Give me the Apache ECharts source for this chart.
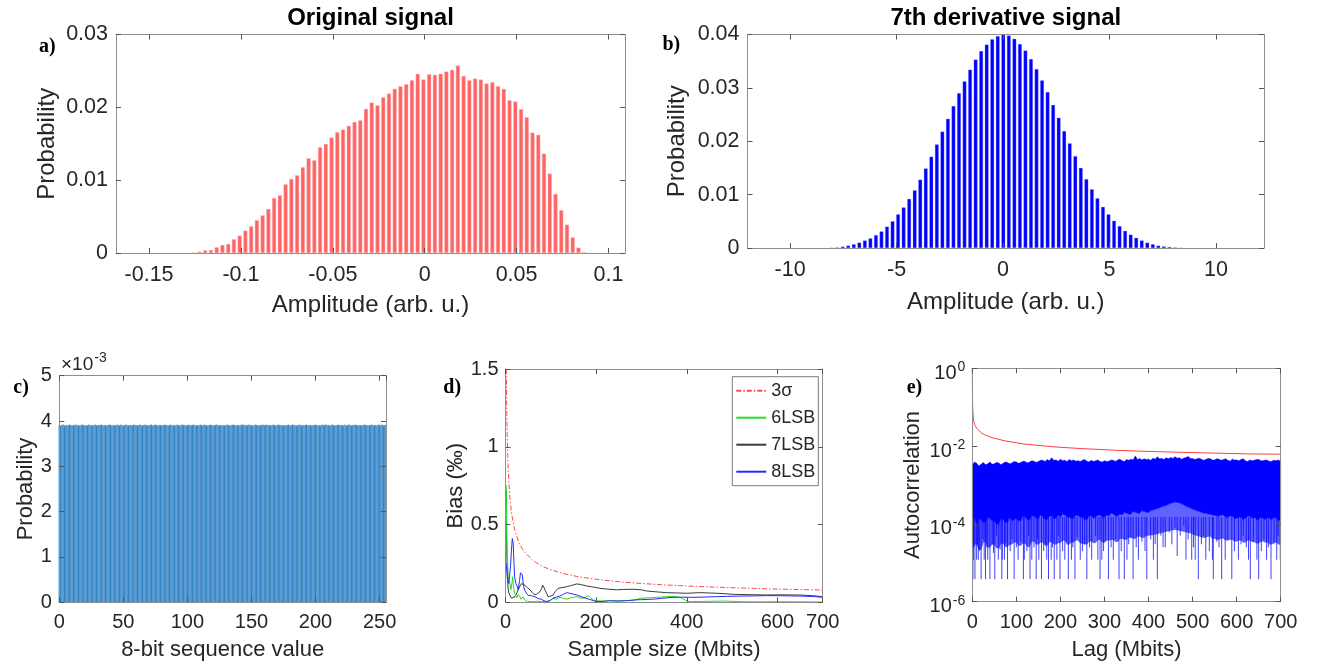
<!DOCTYPE html>
<html><head><meta charset="utf-8">
<script src="https://cdn.jsdelivr.net/npm/echarts@6/dist/echarts.min.js"></script>
<style>html,body{margin:0;padding:0;background:#fff}#c{width:1321px;height:667px}</style>
</head><body><div id="c"></div>
<script>
// ---------- DATA ----------
// a) Original signal histogram
const aBinStart = -0.1257, aBinWidth = 0.003125;
const aProb = [0.00005,0.00018,0.00037,0.00041,0.00078,0.0011,0.00124,0.00188,0.00238,0.00307,
  0.00366,0.00449,0.00517,0.00604,0.00755,0.00792,0.00943,0.01016,0.01067,0.01177,
  0.0130,0.01273,0.01451,0.01497,0.01584,0.01658,0.01694,0.01745,0.01799,0.01822,
  0.01978,0.02065,0.02028,0.02138,0.02189,0.02253,0.02289,0.02317,
  0.02372,0.02459,0.02381,0.02454,0.02445,0.02459,0.02491,0.02514,0.02573,0.02431,
  0.02372,0.02395,0.02381,0.02326,0.02344,0.02289,0.02253,0.02097,0.02079,0.01973,
  0.01864,0.01653,0.01621,0.01364,0.0109,0.0081,0.00586,0.00389,0.00215,0.00073,0.0001];
const aTicks = [-0.15,-0.1,-0.05,0,0.05,0.1];
// b) 7th derivative histogram
const bBinStart = -8.05, bBinWidth = 0.26;
const bProb = [0.00006,0.0001,0.00025,0.00044,0.0007,0.001,0.0014,0.0018,0.0024,0.0031,
  0.004,0.005,0.0063,0.0076,0.0092,0.0108,0.0128,0.0149,0.0171,0.0194,
  0.0218,0.0242,0.0266,0.029,0.0312,0.0334,0.0353,0.0369,0.0381,0.0391,0.0397,
  0.0400,
  0.0398,0.0392,0.0382,0.037,0.0354,0.0335,0.0314,0.0292,0.0268,0.0244,
  0.0219,0.0196,0.0172,0.015,0.0129,0.011,0.0093,0.0077,0.0063,0.0051,
  0.0041,0.0032,0.0025,0.0019,0.0014,0.001,0.0007,0.00044,0.0003,0.0002,0.0001,0.00005];
const bTicks = [-10,-5,0,5,10];
// c) 8-bit sequence value histogram (x 10^-3)
const cProb = [
 3.91,3.90,3.91,3.92,3.90,3.91,3.91,3.90,3.92,3.91,3.90,3.91,3.91,3.92,3.90,3.91,
 3.90,3.91,3.92,3.91,3.90,3.91,3.90,3.92,3.91,3.91,3.90,3.91,3.92,3.90,3.91,3.91,
 3.91,3.92,3.90,3.91,3.91,3.90,3.91,3.92,3.91,3.90,3.91,3.91,3.90,3.92,3.91,3.90,
 3.92,3.91,3.90,3.91,3.92,3.91,3.90,3.91,3.91,3.90,3.92,3.91,3.91,3.90,3.91,3.92,
 3.90,3.91,3.91,3.92,3.91,3.90,3.91,3.91,3.92,3.90,3.91,3.92,3.91,3.90,3.91,3.91,
 3.91,3.90,3.92,3.91,3.91,3.90,3.91,3.92,3.90,3.91,3.91,3.90,3.92,3.91,3.90,3.91,
 3.92,3.91,3.91,3.90,3.91,3.92,3.90,3.91,3.91,3.92,3.90,3.91,3.91,3.90,3.92,3.91,
 3.90,3.92,3.91,3.91,3.90,3.91,3.92,3.91,3.90,3.91,3.91,3.92,3.90,3.91,3.91,3.90,
 3.91,3.91,3.90,3.92,3.91,3.90,3.91,3.91,3.92,3.91,3.90,3.91,3.91,3.90,3.92,3.91,
 3.92,3.90,3.91,3.91,3.92,3.91,3.90,3.91,3.90,3.92,3.91,3.91,3.90,3.91,3.91,3.92,
 3.91,3.91,3.92,3.90,3.91,3.91,3.90,3.92,3.91,3.90,3.91,3.92,3.91,3.91,3.90,3.91,
 3.90,3.91,3.91,3.92,3.90,3.91,3.92,3.91,3.91,3.90,3.91,3.91,3.92,3.90,3.91,3.91,
 3.91,3.92,3.90,3.91,3.91,3.90,3.91,3.91,3.92,3.91,3.90,3.91,3.90,3.92,3.91,3.91,
 3.92,3.91,3.91,3.90,3.91,3.92,3.91,3.90,3.91,3.91,3.92,3.90,3.91,3.91,3.90,3.92,
 3.90,3.91,3.92,3.91,3.90,3.91,3.91,3.92,3.91,3.90,3.91,3.91,3.90,3.91,3.92,3.91,
 3.91,3.90,3.91,3.91,3.92,3.90,3.91,3.91,3.90,3.92,3.91,3.91,3.92,3.90,3.91,3.91];
// d) Bias vs sample size (Mbits, permille)
const d3Sigma = [[1.8,1.5],[2,1.45],[2.5,1.3],[3,1.2],[4,1.05],[5,0.93],[7,0.79],[10,0.66],[14,0.56],[20,0.47],[30,0.38],[40,0.33],[60,0.27],[80,0.233],[100,0.209],[130,0.183],[160,0.165],[200,0.148],[250,0.132],[300,0.121],[350,0.112],[400,0.105],[450,0.099],[500,0.094],[550,0.089],[600,0.085],[650,0.082],[700,0.079]];
const d6LSB = [[0.5,0.2],[1,0.75],[2,0.6],[3,0.4],[4,0.3],[6,0.16],[8,0.14],[10,0.12],[12,0.08],[14,0.12],[16,0.165],[18,0.09],[20,0.06],[22,0.047],[25,0.03],[28,0.05],[30,0.058],[32,0.035],[34,0.02],[37,0.03],[39,0.036],[41,0.02],[43,0.01],[48,0.004],[55,0.006],[62,0.003],[70,0.007],[80,0.004],[90,0.006],[98,0.01],[105,0.026],[112,0.02],[120,0.032],[128,0.025],[135,0.02],[145,0.03],[157,0.036],[165,0.028],[171,0.026],[178,0.035],[183,0.043],[188,0.03],[194,0.015],[200,0.01],[215,0.008],[230,0.011],[250,0.009],[265,0.012],[282,0.01],[297,0.026],[310,0.028],[320,0.03],[333,0.032],[345,0.034],[355,0.036],[365,0.038],[378,0.036],[388,0.028],[396,0.015],[402,0.006],[410,0.004],[430,0.005],[460,0.007],[480,0.008],[500,0.006],[520,0.004],[560,0.003],[600,0.004],[650,0.003],[700,0.002]];
const d7LSB = [[0.5,0.3],[1,0.72],[1.5,0.65],[2,0.5],[3,0.3],[4,0.2],[5,0.12],[6,0.08],[8,0.055],[10,0.047],[13,0.026],[16,0.03],[21,0.036],[25,0.06],[28,0.08],[32,0.105],[35,0.12],[39,0.115],[43,0.11],[48,0.095],[54,0.08],[60,0.06],[65,0.047],[70,0.055],[76,0.069],[80,0.09],[82,0.11],[85,0.095],[87,0.08],[91,0.055],[94,0.036],[100,0.04],[105,0.047],[110,0.07],[116,0.09],[125,0.095],[135,0.1],[145,0.108],[157,0.118],[165,0.115],[179,0.105],[190,0.1],[208,0.09],[225,0.085],[245,0.08],[260,0.083],[282,0.084],[300,0.08],[311,0.073],[330,0.068],[355,0.062],[380,0.06],[400,0.058],[429,0.062],[450,0.06],[466,0.058],[485,0.055],[503,0.051],[540,0.049],[576,0.047],[610,0.048],[650,0.047],[680,0.042],[700,0.036]];
const d8LSB = [[0.5,0.15],[1,0.25],[2,0.23],[3.7,0.19],[5,0.15],[7,0.12],[9,0.17],[11,0.23],[13,0.33],[15,0.41],[17,0.38],[18,0.3],[20,0.165],[23,0.12],[26,0.1],[28,0.08],[31,0.14],[33,0.19],[35,0.195],[37,0.176],[40,0.1],[43,0.075],[46,0.058],[50,0.045],[54,0.036],[58,0.042],[61,0.047],[65,0.035],[68,0.026],[74,0.022],[79,0.02],[85,0.01],[90,0.004],[98,0.01],[105,0.026],[112,0.033],[120,0.04],[128,0.052],[135,0.062],[142,0.058],[150,0.052],[157,0.047],[164,0.04],[171,0.032],[178,0.025],[186,0.019],[194,0.01],[201,0.004],[215,0.006],[230,0.01],[250,0.008],[267,0.01],[282,0.015],[300,0.017],[326,0.02],[345,0.026],[370,0.032],[390,0.033],[415,0.032],[440,0.034],[466,0.036],[490,0.038],[517,0.04],[545,0.041],[576,0.043],[610,0.042],[650,0.04],[680,0.037],[700,0.032]];
const dNames = ['3σ','6LSB','7LSB','8LSB'];
// e) Autocorrelation vs lag (Mbits)
const eSigma = [[0,1],[0.3,0.3],[0.7,0.12],[1.5,0.068],[3,0.045],[6,0.034],[10,0.029],[20,0.022],[30,0.019],[45,0.0165],[60,0.015],[75,0.0135],[100,0.0122],[115,0.0114],[150,0.0104],[175,0.0098],[200,0.0093],[250,0.0086],[300,0.0081],[325,0.0078],[400,0.0073],[475,0.0069],[550,0.0066],[625,0.0063],[700,0.0062]];
const eEnvX = [0,5,10,15,20,25,30,35,40,45,50,55,60,65,70,75,80,85,90,95,100,105,110,115,120,125,130,135,140,145,150,155,160,165,170,175,180,185,190,195,200,205,210,215,220,225,230,235,240,245,250,255,260,265,270,275,280,285,290,295,300,305,310,315,320,325,330,335,340,345,350,355,360,365,370,375,380,385,390,395,400,405,410,415,420,425,430,435,440,445,450,455,460,465,470,475,480,485,490,495,500,505,510,515,520,525,530,535,540,545,550,555,560,565,570,575,580,585,590,595,600,605,610,615,620,625,630,635,640,645,650,655,660,665,670,675,680,685,690,695,700];
const eTop = [3.2e-3,3.9e-3,3.6e-3,3.1e-3,3.4e-3,3.8e-3,3.3e-3,3.5e-3,3.9e-3,3.4e-3,3.5e-3,3.8e-3,3.7e-3,3.3e-3,3.6e-3,3.9e-3,3.8e-3,3.5e-3,3.7e-3,4.0e-3,3.9e-3,3.6e-3,3.8e-3,4.1e-3,4.0e-3,3.7e-3,3.9e-3,4.2e-3,4.1e-3,3.8e-3,4.0e-3,4.3e-3,4.3e-3,4.0e-3,4.5e-3,4.2e-3,5.0e-3,4.3e-3,4.4e-3,4.1e-3,4.6e-3,4.2e-3,4.3e-3,4.0e-3,4.5e-3,4.2e-3,4.4e-3,4.1e-3,4.2e-3,4.0e-3,4.3e-3,4.5e-3,4.1e-3,3.9e-3,4.3e-3,4.0e-3,4.2e-3,4.4e-3,4.0e-3,3.9e-3,4.2e-3,4.0e-3,4.1e-3,4.4e-3,4.3e-3,4.0e-3,4.4e-3,4.6e-3,4.2e-3,4.0e-3,4.5e-3,4.3e-3,4.6e-3,4.4e-3,5.6e-3,4.5e-3,4.8e-3,4.4e-3,4.7e-3,4.5e-3,4.6e-3,4.3e-3,4.9e-3,4.6e-3,5.3e-3,4.7e-3,4.8e-3,4.5e-3,5.0e-3,4.7e-3,5.1e-3,4.8e-3,5.3e-3,4.9e-3,5.0e-3,4.6e-3,4.9e-3,5.1e-3,5.4e-3,4.8e-3,4.8e-3,4.5e-3,4.7e-3,4.9e-3,4.6e-3,4.3e-3,4.5e-3,4.8e-3,4.7e-3,4.4e-3,4.4e-3,4.7e-3,4.6e-3,4.3e-3,4.5e-3,4.7e-3,4.3e-3,4.1e-3,4.6e-3,4.4e-3,4.4e-3,4.2e-3,4.5e-3,4.7e-3,4.2e-3,4.0e-3,4.4e-3,4.2e-3,4.3e-3,4.5e-3,4.5e-3,4.2e-3,4.2e-3,4.4e-3,4.3e-3,4.0e-3,4.1e-3,4.3e-3,4.2e-3,4.4e-3,4.0e-3];
const eDense = [1.2e-4,1.5e-4,1.0e-4,1.4e-4,1.3e-4,1.1e-4,1.1e-4,1.5e-4,1.4e-4,1.2e-4,1.2e-4,1.0e-4,1.0e-4,1.4e-4,1.3e-4,1.1e-4,1.1e-4,1.5e-4,1.2e-4,1.3e-4,1.4e-4,1.2e-4,1.2e-4,1.6e-4,1.5e-4,1.3e-4,1.3e-4,1.6e-4,1.6e-4,1.4e-4,1.4e-4,1.7e-4,1.5e-4,1.3e-4,1.3e-4,1.6e-4,1.6e-4,1.4e-4,1.4e-4,1.7e-4,1.5e-4,1.8e-4,1.7e-4,1.5e-4,1.5e-4,1.4e-4,1.4e-4,1.7e-4,1.6e-4,1.5e-4,1.5e-4,1.3e-4,1.3e-4,1.6e-4,1.6e-4,1.4e-4,1.5e-4,1.7e-4,1.7e-4,1.5e-4,1.5e-4,1.7e-4,1.6e-4,1.9e-4,1.8e-4,1.6e-4,1.6e-4,1.8e-4,1.7e-4,2.0e-4,1.9e-4,1.8e-4,1.8e-4,2.1e-4,2.0e-4,1.9e-4,1.9e-4,2.2e-4,2.1e-4,2.0e-4,2.0e-4,2.2e-4,2.3e-4,2.4e-4,2.5e-4,2.6e-4,2.8e-4,2.9e-4,3.0e-4,3.2e-4,3.4e-4,3.5e-4,3.7e-4,3.6e-4,3.5e-4,3.3e-4,3.1e-4,2.9e-4,2.7e-4,2.6e-4,2.4e-4,2.3e-4,2.2e-4,2.1e-4,2.0e-4,1.9e-4,1.9e-4,1.8e-4,1.8e-4,1.7e-4,1.7e-4,1.6e-4,1.6e-4,1.7e-4,1.7e-4,1.5e-4,1.5e-4,1.6e-4,1.6e-4,1.4e-4,1.4e-4,1.5e-4,1.5e-4,1.3e-4,1.4e-4,1.6e-4,1.6e-4,1.4e-4,1.5e-4,1.3e-4,1.3e-4,1.5e-4,1.4e-4,1.3e-4,1.5e-4,1.4e-4,1.3e-4,1.5e-4,1.4e-4,1.2e-4,1.3e-4];
const eSparse = [2.5e-5,3e-5,3e-5,2.2e-5,2.2e-5,3.5e-5,3.5e-5,2.5e-5,2.5e-5,3e-5,3e-5,2.4e-5,2.4e-5,3.2e-5,3.2e-5,2.6e-5,2.6e-5,3e-5,3e-5,3.4e-5,3.4e-5,2.8e-5,2.8e-5,3.2e-5,3.2e-5,2.6e-5,2.6e-5,3.6e-5,3.6e-5,3e-5,3e-5,3.4e-5,3.4e-5,2.8e-5,2.8e-5,3.5e-5,3.5e-5,3e-5,3e-5,3.3e-5,3.3e-5,3.8e-5,3.8e-5,3e-5,3e-5,3.4e-5,3.4e-5,3.8e-5,3.8e-5,3.2e-5,3.2e-5,3e-5,3e-5,3.6e-5,3.6e-5,3.3e-5,3.3e-5,4e-5,4e-5,3.4e-5,3.4e-5,3.8e-5,3.8e-5,4e-5,4e-5,3.5e-5,3.5e-5,4.2e-5,4.2e-5,4e-5,4e-5,4.5e-5,4.5e-5,4.2e-5,4.2e-5,4.8e-5,4.8e-5,4.5e-5,4.5e-5,5e-5,5e-5,5.2e-5,5.2e-5,5.5e-5,5.5e-5,5.8e-5,6e-5,6.2e-5,6.4e-5,6.6e-5,6.8e-5,7e-5,7.2e-5,7e-5,6.8e-5,6.6e-5,6.4e-5,6.2e-5,6e-5,5.8e-5,5.5e-5,5.2e-5,5e-5,4.8e-5,4.6e-5,4.5e-5,4.5e-5,4.8e-5,4.8e-5,4.2e-5,4.2e-5,4e-5,4e-5,4.3e-5,4.3e-5,3.8e-5,3.8e-5,4e-5,4e-5,3.6e-5,3.6e-5,3.8e-5,3.8e-5,3.4e-5,3.4e-5,3.8e-5,3.8e-5,3.5e-5,3.5e-5,3.2e-5,3.2e-5,3.6e-5,3.6e-5,3.4e-5,3.4e-5,3e-5,3e-5,3.4e-5,3.4e-5,3e-5,3e-5];
const eSpikeX = [1.5,6,20,30,40,51,67,80,95,116,131,145,157,173,186,199,218,233,260,290,309,333,345,365,396,420,513,547,566,589,631,650,678,
  2.3,9.8,13.6,27,35,59,68,73,104,118,135,151,169,179,192,210,225,245,271,285,294,320,351,377,411,485,498,506,530,545,574,604,627,646,668,691,699,
  4,12,16,24,33,45,48,55,63,76,86,90,100,110,124,128,140,148,162,166,182,195,205,214,228,238,250,255,266,280,298,302,315,326,338,355,360,372,385,392,405,415,428,433,438,447,453,460,465,472,480,490,502,520,525,538,555,560,580,595,610,615,622,638,656,662,672,685,694];
const eSpikeLo = [3.8e-6,3.8e-6,3.8e-6,3.8e-6,3.8e-6,3.8e-6,3.8e-6,3.8e-6,3.8e-6,3.8e-6,3.8e-6,3.8e-6,3.8e-6,3.8e-6,3.8e-6,3.8e-6,3.8e-6,3.8e-6,3.8e-6,3.8e-6,3.8e-6,3.8e-6,3.8e-6,3.8e-6,3.8e-6,3.8e-6,3.8e-6,3.8e-6,3.8e-6,3.8e-6,3.8e-6,3.8e-6,3.8e-6,
  1.2e-5,1.2e-5,1.2e-5,1.2e-5,1.2e-5,1.2e-5,1.2e-5,1.2e-5,1.2e-5,1.2e-5,1.2e-5,1.2e-5,1.2e-5,1.2e-5,1.2e-5,1.2e-5,1.2e-5,1.2e-5,1.2e-5,1.2e-5,1.2e-5,1.2e-5,1.2e-5,1.2e-5,1.2e-5,1.2e-5,1.2e-5,1.2e-5,1.2e-5,1.2e-5,1.2e-5,1.2e-5,1.2e-5,1.2e-5,1.2e-5,1.2e-5,1.2e-5,
  2.5e-5,3e-5,2e-5,4e-5,2.5e-5,3e-5,1.8e-5,5e-5,2.2e-5,3e-5,2e-5,4e-5,2.5e-5,3.5e-5,2e-5,5e-5,2.5e-5,4e-5,2e-5,3e-5,2.5e-5,5e-5,2e-5,3.5e-5,2.5e-5,4.5e-5,2e-5,3e-5,2.5e-5,5e-5,2e-5,3.5e-5,2.5e-5,4e-5,2e-5,3e-5,4.5e-5,2.5e-5,3.5e-5,2e-5,4e-5,3e-5,5e-5,2.5e-5,2.5e-5,6e-5,3e-5,8e-5,1.5e-5,5e-5,9e-5,4e-5,2.5e-5,3e-5,5e-5,2e-5,3.5e-5,2.5e-5,4e-5,2e-5,3e-5,5e-5,2.5e-5,3.5e-5,2e-5,4e-5,2.5e-5,3e-5,5e-5];

// ---------- STYLE ----------
const FONT = '"Liberation Sans", Arial, Helvetica, sans-serif';
const SERIF = '"Liberation Serif", "Times New Roman", serif';
const AXC = '#8f8f8f', TKC = '#555555', TXC = '#262626';

const grids = [
  {left:116, top:34.5, width:509, height:218.5},
  {left:747.5, top:34.5, width:516.5, height:213.5},
  {left:59.3, top:375.7, width:326.7, height:226.6},
  {left:505.5, top:369, width:317.2, height:233.3},
  {left:972.3, top:368.3, width:308.4, height:233.4}
].map(g => Object.assign({containLabel:false, outerBoundsMode:'none'}, g));

function axis(g, pos, main, o) {
  const tick = {show:true, inside:true, length:5, lineStyle:{color:TKC, width:1}};
  if (o.custom) tick.customValues = o.custom;
  const label = main ? {show:true, color:TXC, fontFamily:FONT, fontSize:o.fs, margin:o.margin} : {show:false};
  if (main && o.custom) label.customValues = o.custom;
  if (main && o.formatter) { label.formatter = o.formatter; label.rich = o.rich; }
  const a = {
    type:o.type || 'value', gridIndex:g, position:pos, min:o.min, max:o.max,
    axisLine:{show:true, onZero:false, lineStyle:{color:AXC, width:1}},
    axisTick:tick, minorTick:{show:false}, splitLine:{show:false}, axisLabel:label,
    name: main ? o.name : '', nameLocation:'middle', nameGap:o.nameGap,
    nameTextStyle:{color:TXC, fontFamily:FONT, fontSize:o.nfs},
    silent:true, z:10
  };
  if (o.interval != null) a.interval = o.interval;
  if (o.logBase) a.logBase = o.logBase;
  return a;
}

const xCfg = [
  {min:-0.168, max:0.109, custom:aTicks, fs:21.5, margin:11, name:'Amplitude (arb. u.)', nameGap:40, nfs:24},
  {min:-12, max:12.25, custom:bTicks, fs:21.5, margin:11, name:'Amplitude (arb. u.)', nameGap:42, nfs:24},
  {min:0, max:255, interval:50, fs:20, margin:10.5, name:'8-bit sequence value', nameGap:37, nfs:22},
  {min:0, max:700, interval:200, fs:20, margin:10.5, name:'Sample size (Mbits)', nameGap:37, nfs:22},
  {min:0, max:700, interval:100, fs:20, margin:10.5, name:'Lag (Mbits)', nameGap:37, nfs:22}
];
const supFmt = v => '{b|10}{s|' + Math.round(Math.log10(v)) + '}';
const supRich = {
  b:{fontSize:20, fontFamily:FONT, color:TXC, lineHeight:24, padding:[10,0,0,0]},
  s:{fontSize:14, fontFamily:FONT, color:TXC, lineHeight:14, verticalAlign:'top', padding:[4,0,0,1]}
};
const yCfg = [
  {min:0, max:0.03, interval:0.01, fs:21.5, margin:8, name:'Probability', nameGap:57, nfs:24},
  {min:0, max:0.04, interval:0.01, fs:21.5, margin:8, name:'Probability', nameGap:58, nfs:24},
  {min:0, max:5, interval:1, fs:20, margin:7.5, name:'Probability', nameGap:21.5, nfs:22},
  {min:0, max:1.5, interval:0.5, fs:20, margin:7, name:'Bias (‰)', nameGap:38, nfs:22},
  {type:'log', logBase:10, min:1e-6, max:1, interval:2, fs:20, margin:7, name:'Autocorrelation', nameGap:48, nfs:22, formatter:supFmt, rich:supRich}
];
const xAxes = [], yAxes = [];
for (let g = 0; g < 5; g++) {
  xAxes.push(axis(g, 'bottom', true, xCfg[g]));
  xAxes.push(axis(g, 'top', false, xCfg[g]));
  yAxes.push(axis(g, 'left', true, yCfg[g]));
  yAxes.push(axis(g, 'right', false, yCfg[g]));
}

// ---------- SERIES ----------
const aData = aProb.map((p, i) => [aBinStart + i * aBinWidth, p]);
const bData = bProb.map((p, i) => [bBinStart + i * bBinWidth, p]);
const cData = cProb.map((p, i) => [i, p]);

function bandRender(topArr, botArr, fill) {
  return function (params, api) {
    const pts = [];
    for (let i = 0; i < eEnvX.length; i++) pts.push(api.coord([eEnvX[i], topArr[i]]));
    for (let i = eEnvX.length - 1; i >= 0; i--) pts.push(api.coord([eEnvX[i], botArr[i]]));
    return {type:'polygon', shape:{points:pts}, style:{fill:fill, stroke:fill, lineWidth:0.5}};
  };
}
const SPIKE_JOIN = 1.5e-4;

const series = [
  {type:'bar', xAxisIndex:0, yAxisIndex:0, data:aData, barWidth:4, itemStyle:{color:'#ff6464', borderColor:'#ffb4b4', borderWidth:0.4}, silent:true, animation:false},
  {type:'bar', xAxisIndex:2, yAxisIndex:2, data:bData, barWidth:3.7, itemStyle:{color:'#0000ff', borderColor:'#9a9aff', borderWidth:0.3}, silent:true, animation:false},
  {type:'bar', xAxisIndex:4, yAxisIndex:4, data:cData, barWidth:1.3, itemStyle:{color:'#3a8fd0', borderColor:'#1868ad', borderWidth:0.2}, silent:true, animation:false},
  {name:dNames[0], type:'line', xAxisIndex:6, yAxisIndex:6, data:d3Sigma, symbol:'none', lineStyle:{color:'#ff4a4a', width:1, type:[5,2,1.5,2]}, itemStyle:{color:'#ff4a4a'}, silent:true, animation:false, z:3},
  {name:dNames[1], type:'line', xAxisIndex:6, yAxisIndex:6, data:d6LSB, symbol:'none', lineStyle:{color:'#22e022', width:1}, itemStyle:{color:'#22e022'}, silent:true, animation:false, z:4},
  {name:dNames[2], type:'line', xAxisIndex:6, yAxisIndex:6, data:d7LSB, symbol:'none', lineStyle:{color:'#3a3a3a', width:1}, itemStyle:{color:'#3a3a3a'}, silent:true, animation:false, z:3},
  {name:dNames[3], type:'line', xAxisIndex:6, yAxisIndex:6, data:d8LSB, symbol:'none', lineStyle:{color:'#2a2aff', width:1}, itemStyle:{color:'#2a2aff'}, silent:true, animation:false, z:5},
  {type:'custom', xAxisIndex:8, yAxisIndex:8, data:[[0, 1e-3]], renderItem:bandRender(eDense, eSparse, 'rgba(0,0,255,0.62)'), silent:true, animation:false, z:2},
  {type:'custom', xAxisIndex:8, yAxisIndex:8, data:[[0, 1e-3]], renderItem:bandRender(eTop, eDense, '#0000ff'), silent:true, animation:false, z:3},
  {type:'custom', xAxisIndex:8, yAxisIndex:8, data:eSpikeX.map((x, i) => [x, eSpikeLo[i]]),
    renderItem:function (params, api) {
      const p1 = api.coord([api.value(0), api.value(1)]);
      const p2 = api.coord([api.value(0), SPIKE_JOIN]);
      return {type:'line', shape:{x1:p1[0], y1:p1[1], x2:p2[0], y2:p2[1]}, style:{stroke:'rgba(0,0,255,0.75)', lineWidth:1}};
    }, silent:true, animation:false, z:2},
  {type:'line', xAxisIndex:8, yAxisIndex:8, data:eSigma, symbol:'none', lineStyle:{color:'#ff3b3b', width:1}, silent:true, animation:false, z:6}
];

// ---------- TEXT ----------
const titleFont = 'bold 24px ' + FONT;
const panelFont = 'bold 20px ' + SERIF;
function txt(x, y, text, font, align) {
  return {type:'text', x:x, y:y, silent:true, z:20,
    style:{text:text, font:font, fill:'#000', textAlign:align || 'left', align:align || 'left', textVerticalAlign:'middle', verticalAlign:'middle'}};
}
const graphic = [
  txt(370.5, 18.5, 'Original signal', titleFont, 'center'),
  txt(1005.8, 18.5, '7th derivative signal', titleFont, 'center'),
  txt(39, 47, 'a)', panelFont),
  txt(662.5, 45, 'b)', panelFont),
  txt(13.3, 388, 'c)', panelFont),
  txt(443.3, 388, 'd)', panelFont),
  txt(906.7, 388, 'e)', panelFont),
  {type:'text', x:61, y:362, silent:true, z:20,
    style:{text:'{m|×10}{s|-3}', fill:TXC, textAlign:'left', align:'left', textVerticalAlign:'middle', verticalAlign:'middle',
      rich:{m:{fontSize:19, fontFamily:FONT, fill:TXC, color:TXC, lineHeight:22, padding:[6,0,0,0]}, s:{fontSize:14, fontFamily:FONT, fill:TXC, color:TXC, lineHeight:14, verticalAlign:'top', padding:[0,0,0,1]}}}}
];

const chart = echarts.init(document.getElementById('c'), null, {renderer:'canvas', width:1321, height:667});
chart.setOption({
  backgroundColor:'#ffffff',
  animation:false,
  grid:grids,
  xAxis:xAxes,
  yAxis:yAxes,
  legend:{
    data:dNames, orient:'vertical', left:732.3, top:376.7, itemWidth:30, itemHeight:14, itemGap:9,
    padding:[5,3,5,3], borderColor:'#7a7a7a', borderWidth:1, backgroundColor:'#ffffff',
    itemStyle:{opacity:0, borderWidth:0},
    textStyle:{fontSize:18, fontFamily:FONT, color:TXC}, selectedMode:false, z:15
  },
  series:series,
  graphic:graphic
});
</script></body></html>
